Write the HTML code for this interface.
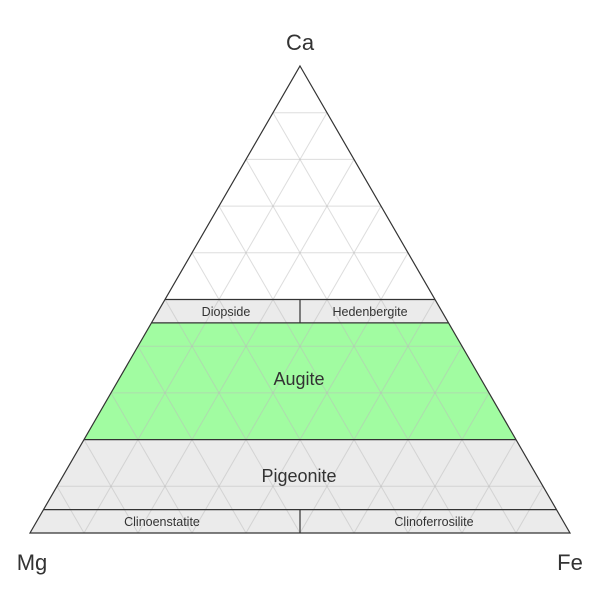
<!DOCTYPE html>
<html><head><meta charset="utf-8"><style>html,body{margin:0;padding:0;background:#fff}svg{display:block}</style></head>
<body>
<svg width="600" height="600" viewBox="0 0 600 600" xmlns="http://www.w3.org/2000/svg" font-family="Liberation Sans, sans-serif">
<polygon points="165,299.5 435,299.5 448.5,322.85 151.5,322.85" fill="#ebebeb"/>
<polygon points="151.5,322.85 448.5,322.85 516,439.6 84,439.6" fill="#a1fca1"/>
<polygon points="84,439.6 516,439.6 570,533 30,533" fill="#ebebeb"/>
<g stroke="#bbb" stroke-opacity="0.5" stroke-width="1">
<line x1="273" y1="112.7" x2="327" y2="112.7"/><line x1="246" y1="159.4" x2="354" y2="159.4"/><line x1="219" y1="206.1" x2="381" y2="206.1"/><line x1="192" y1="252.8" x2="408" y2="252.8"/><line x1="138" y1="346.2" x2="462" y2="346.2"/><line x1="111" y1="392.9" x2="489" y2="392.9"/><line x1="57" y1="486.3" x2="543" y2="486.3"/>
<line x1="84" y1="533" x2="327" y2="112.7"/><line x1="138" y1="533" x2="354" y2="159.4"/><line x1="192" y1="533" x2="381" y2="206.1"/><line x1="246" y1="533" x2="408" y2="252.8"/><line x1="300" y1="533" x2="435" y2="299.5"/><line x1="354" y1="533" x2="462" y2="346.2"/><line x1="408" y1="533" x2="489" y2="392.9"/><line x1="462" y1="533" x2="516" y2="439.6"/><line x1="516" y1="533" x2="543" y2="486.3"/>
<line x1="516" y1="533" x2="273" y2="112.7"/><line x1="462" y1="533" x2="246" y2="159.4"/><line x1="408" y1="533" x2="219" y2="206.1"/><line x1="354" y1="533" x2="192" y2="252.8"/><line x1="300" y1="533" x2="165" y2="299.5"/><line x1="246" y1="533" x2="138" y2="346.2"/><line x1="192" y1="533" x2="111" y2="392.9"/><line x1="138" y1="533" x2="84" y2="439.6"/><line x1="84" y1="533" x2="57" y2="486.3"/>
</g>
<g stroke="#333" stroke-width="1.2" fill="none">
<polygon points="300,66 570,533 30,533"/>
<line x1="165" y1="299.5" x2="435" y2="299.5"/><line x1="151.5" y1="322.85" x2="448.5" y2="322.85"/><line x1="84" y1="439.6" x2="516" y2="439.6"/><line x1="43.5" y1="509.65" x2="556.5" y2="509.65"/>
<line x1="300" y1="299.5" x2="300" y2="322.85"/><line x1="300" y1="509.65" x2="300" y2="533"/>
</g>
<g fill="#333" text-anchor="middle">
<text x="300" y="50" font-size="22">Ca</text>
<text x="32" y="570" font-size="22">Mg</text>
<text x="570" y="570" font-size="22">Fe</text>
<text x="226" y="316" font-size="12.5">Diopside</text>
<text x="370" y="316" font-size="12.5">Hedenbergite</text>
<text x="299" y="385" font-size="18">Augite</text>
<text x="299" y="482" font-size="18">Pigeonite</text>
<text x="162" y="526" font-size="12.5">Clinoenstatite</text>
<text x="434" y="526" font-size="12.5">Clinoferrosilite</text>
</g>
</svg>
</body></html>
